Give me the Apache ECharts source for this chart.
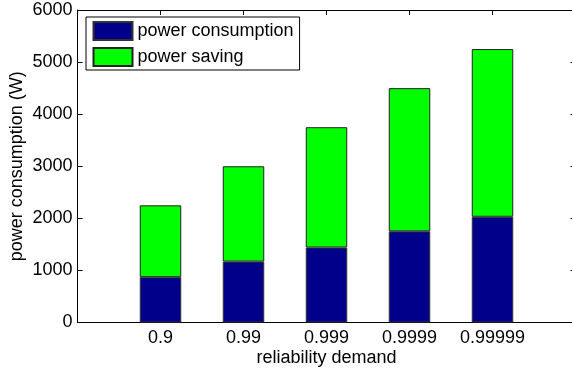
<!DOCTYPE html>
<html>
<head>
<meta charset="utf-8">
<script src="https://cdn.jsdelivr.net/npm/echarts@6/dist/echarts.min.js"></script>
<style>
html,body{margin:0;padding:0;background:#fff;}
#c{width:572px;height:370px;}
</style>
</head>
<body>
<div id="c"></div>
<script>
// Data
var categories = ['0.9', '0.99', '0.999', '0.9999', '0.99999'];
var powerConsumption = [870, 1170, 1440, 1750, 2030];
var powerSaving = [1380, 1830, 2310, 2750, 3220];
var yTicks = [0, 1000, 2000, 3000, 4000, 5000, 6000];

// MATLAB-style x limits [0, 6]: pad with empty slots at both ends
var xCats = [''].concat(categories, ['']);
function pad(arr) { return [null].concat(arr, [null]); }

var FONT = '"Liberation Sans", Arial, Helvetica, sans-serif';
var chart = echarts.init(document.getElementById('c'));
var option = {
  animation: false,
  backgroundColor: '#ffffff',
  textStyle: { fontFamily: FONT, color: '#000' },
  grid: { left: 77.5, top: 10, width: 498, height: 312.5, containLabel: false, outerBoundsMode: 'none' },
  legend: {
    orient: 'vertical',
    left: 86, top: 17,
    padding: [4, 6, 3, 6.5],
    itemGap: 6,
    itemWidth: 39, itemHeight: 18,
    icon: 'rect',
    backgroundColor: '#fff',
    borderColor: '#000', borderWidth: 1,
    textStyle: { fontFamily: FONT, fontSize: 18, color: '#000' },
    data: ['power consumption', 'power saving']
  },
  xAxis: [{
    type: 'category',
    data: xCats,
    boundaryGap: false,
    position: 'bottom',
    name: 'reliability demand',
    nameLocation: 'middle',
    nameGap: 27,
    nameMoveOverlap: false,
    nameTextStyle: { fontFamily: FONT, fontSize: 18, color: '#000' },
    axisLine: { onZero: false, lineStyle: { color: '#000', width: 1 } },
    axisTick: { show: false },
    axisLabel: { fontFamily: FONT, fontSize: 18, color: '#000', margin: 7, interval: 0 },
    splitLine: { show: false }
  }, {
    type: 'category',
    data: xCats,
    boundaryGap: false,
    position: 'top',
    axisLine: { show: true, onZero: false, lineStyle: { color: '#000', width: 1 } },
    axisTick: { show: true, inside: true, length: 5, interval: 0, lineStyle: { color: '#000', width: 1 } },
    axisLabel: { show: false },
    splitLine: { show: false }
  }],
  yAxis: [{
    type: 'value',
    min: yTicks[0], max: yTicks[yTicks.length - 1], interval: 1000,
    position: 'left',
    name: 'power consumption (W)',
    nameLocation: 'middle',
    nameGap: 51,
    nameMoveOverlap: false,
    nameTextStyle: { fontFamily: FONT, fontSize: 18, color: '#000' },
    axisLine: { show: true, onZero: false, lineStyle: { color: '#000', width: 1 } },
    axisTick: { show: true, inside: true, length: 5, lineStyle: { color: '#000' } },
    axisLabel: { fontFamily: FONT, fontSize: 18, color: '#000', margin: 5,
      formatter: function (v) { return String(v); } },
    splitLine: { show: false }
  }, {
    type: 'value',
    min: yTicks[0], max: yTicks[yTicks.length - 1], interval: 1000,
    position: 'right',
    axisLine: { show: true, onZero: false, lineStyle: { color: '#000', width: 1 } },
    axisTick: { show: true, inside: true, length: 5, lineStyle: { color: '#000' } },
    axisLabel: { show: false },
    splitLine: { show: false }
  }],
  series: [{
    name: 'power consumption',
    type: 'bar',
    stack: 'total',
    barWidth: '50%',
    data: pad(powerConsumption),
    itemStyle: { color: '#00008b', borderColor: '#333', borderWidth: 1 }
  }, {
    name: 'power saving',
    type: 'bar',
    stack: 'total',
    barWidth: '50%',
    data: pad(powerSaving),
    itemStyle: { color: '#00ff00', borderColor: '#222', borderWidth: 1 }
  }, {
    name: 'topaxis',
    type: 'line',
    xAxisIndex: 1,
    data: [],
    silent: true
  }]
};
chart.setOption(option);
</script>
</body>
</html>
